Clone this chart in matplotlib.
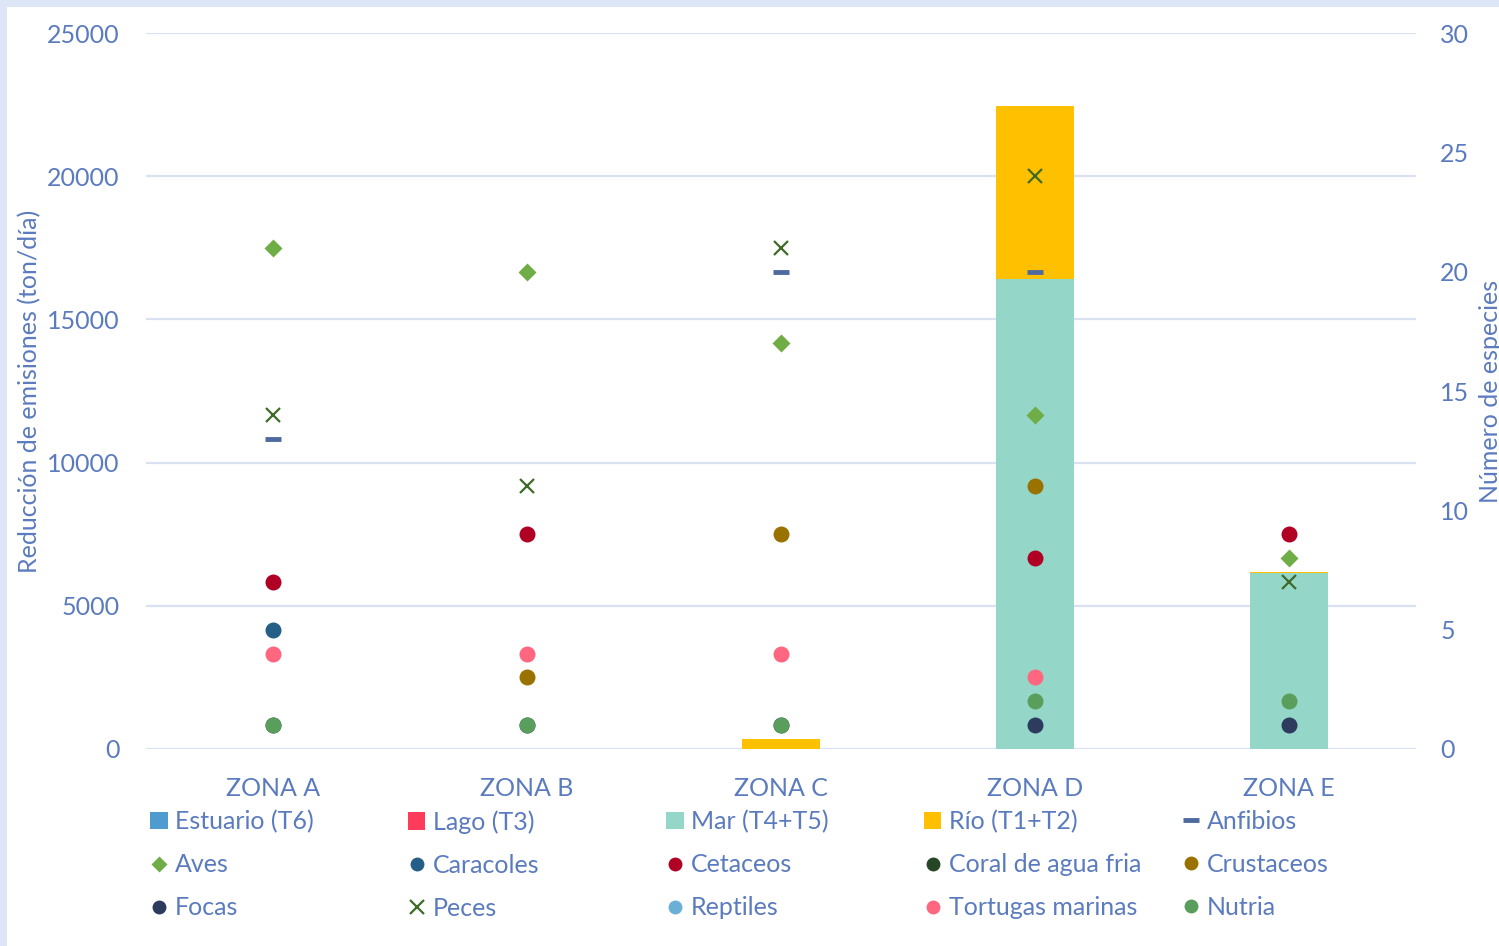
import matplotlib.pyplot as plt
from matplotlib.patches import Rectangle
from matplotlib.lines import Line2D
import numpy as np

plt.rcParams['font.family'] = ['Lato', 'DejaVu Sans']

txt_color = '#5B7BBF'
grid_color = '#D9E1F2'

zonas = ['ZONA A', 'ZONA B', 'ZONA C', 'ZONA D', 'ZONA E']

# barras (ton/dia)
estuario = [0, 0, 0, 0, 0]
lago = [0, 0, 0, 0, 0]
mar = [0, 0, 0, 16400, 6150]
rio = [0, 0, 350, 6050, 30]

# numero de especies por zona
nan = np.nan
anfibios = [13, nan, 20, 20, nan]
aves = [21, 20, 17, 14, 8]
caracoles = [5, nan, nan, nan, nan]
cetaceos = [7, 9, nan, 8, 9]
coral = [nan, nan, nan, nan, nan]
crustaceos = [nan, 3, 9, 11, nan]
focas = [1, 1, 1, 1, 1]
peces = [14, 11, 21, 24, 7]
reptiles = [nan, nan, nan, nan, nan]
tortugas = [4, 4, 4, 3, nan]
nutria = [1, 1, 1, 2, 2]

fig = plt.figure(figsize=(14.99, 9.46), dpi=100)
fig.patch.set_facecolor('#DDE6F7')
fig.patches.append(Rectangle((7 / 1499, 0), 1, 1 - 7 / 946, transform=fig.transFigure,
                             facecolor='white', edgecolor='none', zorder=-5))

ax = fig.add_axes([146 / 1499, 1 - 749 / 946, 1270 / 1499, 716 / 946])
ax.set_facecolor('none')
x = np.arange(len(zonas))
w = 0.31

b1 = ax.bar(x, estuario, w, color='#4E9BD0', label='Estuario (T6)', zorder=2)
b2 = ax.bar(x, lago, w, bottom=estuario, color='#FF3B5C', label='Lago (T3)', zorder=2)
base = np.array(estuario) + np.array(lago)
b3 = ax.bar(x, mar, w, bottom=base, color='#94D7C9', label='Mar (T4+T5)', zorder=2)
base = base + np.array(mar)
b4 = ax.bar(x, rio, w, bottom=base, color='#FFC000', label='Río (T1+T2)', zorder=2)

ax.set_xlim(-0.5, 4.5)
ax.set_ylim(0, 25000)
ax.set_yticks(range(0, 25001, 5000))
ax.grid(axis='y', color=grid_color, lw=1.6, zorder=0)
ax.set_axisbelow(True)
for s in ax.spines.values():
    s.set_visible(False)
ax.set_xticks(x, zonas)
ax.tick_params(axis='both', length=0, labelsize=18, labelcolor=txt_color)
ax.tick_params(axis='y', pad=19)
ax.tick_params(axis='x', pad=20.5)

ax2 = ax.twinx()
ax2.set_ylim(0, 30)
ax2.set_yticks(range(0, 31, 5))
for s in ax2.spines.values():
    s.set_visible(False)
ax2.tick_params(axis='y', length=0, labelsize=18, labelcolor=txt_color, pad=17.5)

ms = 11.5
series = [
    ('Anfibios', anfibios, dict(marker='_', color='#4F6A9E', ms=12, mew=3.5)),
    ('Aves', aves, dict(marker='D', color='#70AD47', ms=9.5)),
    ('Caracoles', caracoles, dict(marker='o', color='#255E87', ms=ms)),
    ('Cetaceos', cetaceos, dict(marker='o', color='#B00024', ms=ms)),
    ('Coral de agua fria', coral, dict(marker='o', color='#264726', ms=ms)),
    ('Crustaceos', crustaceos, dict(marker='o', color='#9A7200', ms=ms)),
    ('Focas', focas, dict(marker='o', color='#2C3B5E', ms=ms)),
    ('Peces', peces, dict(marker='x', color='#3E6B28', ms=10, mew=1.6)),
    ('Reptiles', reptiles, dict(marker='o', color='#6BAED6', ms=ms)),
    ('Tortugas marinas', tortugas, dict(marker='o', color='#FF6680', ms=ms)),
    ('Nutria', nutria, dict(marker='o', color='#5A9E5C', ms=ms)),
]
handles = [b1, b2, b3, b4]
labels = ['Estuario (T6)', 'Lago (T3)', 'Mar (T4+T5)', 'Río (T1+T2)']
for name, vals, st in series:
    ax2.plot(x, vals, ls='none', mec='none' if st['marker'] not in ('x', '_') else st['color'],
             label=name, **st)
    hs = dict(st)
    if hs['marker'] == 'o':
        hs['ms'] = 10
    if hs['marker'] == 'D':
        hs['ms'] = 8
    handles.append(Line2D([], [], ls='none', mec='none' if hs['marker'] not in ('x', '_') else hs['color'], **hs))
    labels.append(name)

# leyenda: 5 columnas de 3 filas, orden por filas
for c in range(5):
    idx = [r * 5 + c for r in range(3)]
    fig.legend([handles[i] for i in idx], [labels[i] for i in idx],
               loc='upper left', bbox_to_anchor=((150 + 258 * c) / 1499, 1 - 810 / 946),
               frameon=False, fontsize=18, labelcolor=txt_color, handlelength=0.7,
               handleheight=0.7, handletextpad=0.3, labelspacing=0.8, borderpad=0,
               borderaxespad=0, numpoints=1)

fig.text(30 / 1499, 1 - 391 / 946, 'Reducción de emisiones (ton/día)', rotation=90,
         ha='center', va='center', fontsize=18, color=txt_color)
fig.text(1490 / 1499, 1 - 391 / 946, 'Número de especies', rotation=90,
         ha='center', va='center', fontsize=18, color=txt_color)

fig.savefig('out.png', dpi=100, facecolor=fig.get_facecolor())
